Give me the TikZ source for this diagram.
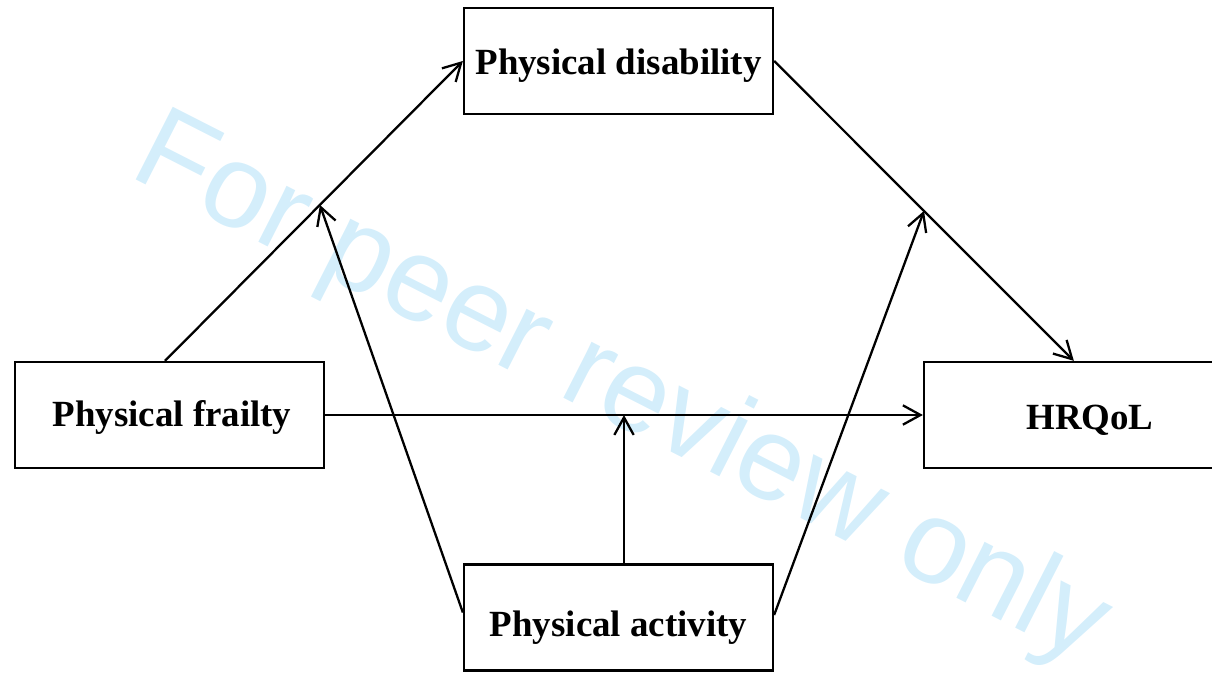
\documentclass[tikz,border=0pt]{standalone}
\usepackage{fontspec}
\setmainfont{Liberation Serif}
\newfontfamily\wmfont{Liberation Sans}
\usepackage{xcolor}
\usetikzlibrary{arrows.meta,calc,positioning}
\definecolor{wmblue}{RGB}{212,238,251}
\newcommand{\boxtext}[2]{\raisebox{-#1}[\height][\depth]{#2}}

\begin{document}
\begin{tikzpicture}[
    box/.style={draw, line width=1.3pt, minimum width=6.18cm, minimum height=2.12cm,
        font=\fontsize{21}{25}\selectfont\bfseries},
    arr/.style={line width=1.3pt, -{Straight Barb[length=10pt,width=11pt,line width=1.3pt]}}
]
\useasboundingbox (0,0) rectangle (24.24,13.56);
% Watermark
\node[wmblue, font=\wmfont\fontsize{67.5}{67.5}\selectfont, rotate=-27, anchor=base west, inner sep=0pt]
    (wm) at (2.55,10.05) {For peer review only};
% Boxes
\node[box] (disab) at (12.37,12.34) {\boxtext{0.1cm}{Physical disability}};
\node[box] (frailty) at (3.39,5.26) {\hspace{0.1cm}\boxtext{0.04cm}{Physical frailty}};
\node[box, minimum width=6.64cm] (hrqol) at (21.8,5.26) {\boxtext{0.1cm}{HRQoL}};
\node[box] (activity) at (12.37,1.21) {\boxtext{0.2cm}{Physical activity}};
% Paths
\coordinate (frtop) at ([xshift=-0.09cm]frailty.north);
\coordinate (hqtop) at ([xshift=3.02cm]hrqol.north west);
\draw[arr] (frtop) -- (disab.west);
\draw[arr] (disab.east) -- (hqtop);
\draw[arr] (frailty.east) -- (hrqol.west);
% Moderation by activity
\coordinate (m1) at ($(frtop)!0.52!(disab.west)$);
\coordinate (m2) at ($(disab.east)!0.5!(hqtop)$);
\coordinate (m3) at ($(frailty.east)!0.5!(hrqol.west)$);
\draw[arr] ([yshift=0.1cm]activity.west) -- (m1);
\draw[arr] ([yshift=0.05cm]activity.east) -- (m2);
\draw[arr] (activity.north -| m3) -- (m3);
\end{tikzpicture}
\end{document}
